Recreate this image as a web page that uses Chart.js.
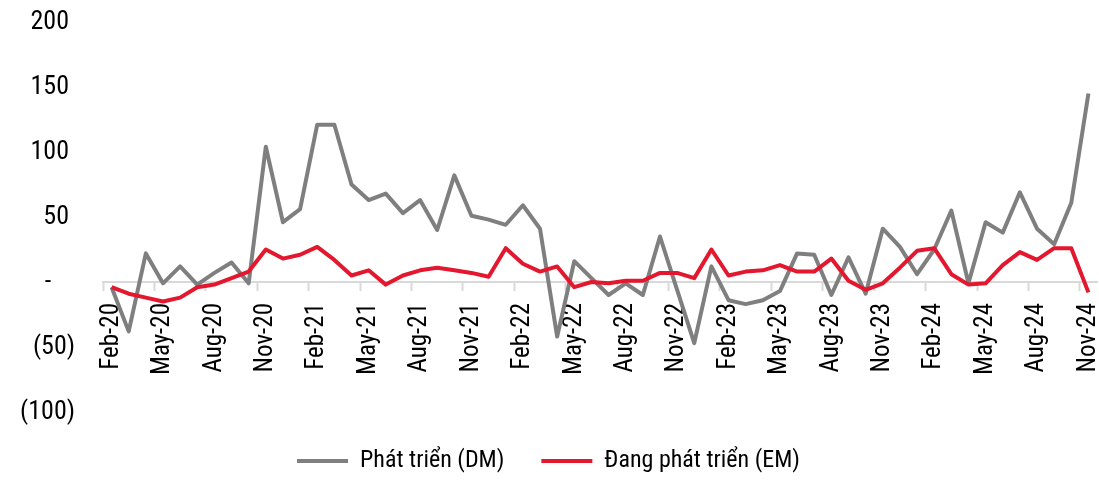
<!DOCTYPE html>
<html>
<head>
<meta charset="utf-8">
<script src="https://cdn.jsdelivr.net/npm/chart.js@4.4.1/dist/chart.umd.min.js"></script>
<style>
  html, body { margin: 0; padding: 0; background: #fff; }
  #wrap { width: 1099px; height: 482px; position: relative; }
</style>
</head>
<body>
<div id="wrap"><canvas id="c"></canvas></div>
<script>
const months = [
  'Feb-20','Mar-20','Apr-20','May-20','Jun-20','Jul-20','Aug-20','Sep-20','Oct-20','Nov-20','Dec-20',
  'Jan-21','Feb-21','Mar-21','Apr-21','May-21','Jun-21','Jul-21','Aug-21','Sep-21','Oct-21','Nov-21','Dec-21',
  'Jan-22','Feb-22','Mar-22','Apr-22','May-22','Jun-22','Jul-22','Aug-22','Sep-22','Oct-22','Nov-22','Dec-22',
  'Jan-23','Feb-23','Mar-23','Apr-23','May-23','Jun-23','Jul-23','Aug-23','Sep-23','Oct-23','Nov-23','Dec-23',
  'Jan-24','Feb-24','Mar-24','Apr-24','May-24','Jun-24','Jul-24','Aug-24','Sep-24','Oct-24','Nov-24'
];
const dmValues = [
  -4, -38, 22, -1, 12, -2, 7, 15, -1, 104, 46,
  56, 121, 121, 75, 63, 68, 53, 63, 40, 82, 51, 48,
  44, 59, 41, -42, 16, 3, -10, -1, -10, 35, -6, -47,
  12, -14, -17, -14, -7, 22, 21, -10, 19, -9, 41, 27,
  6, 25, 55, -1, 46, 38, 69, 41, 29, 61, 145
];
const emValues = [
  -4, -9, -12, -15, -12, -4, -2, 3, 8, 25, 18,
  21, 27, 17, 5, 9, -2, 5, 9, 11, 9, 7, 4,
  26, 14, 8, 12, -4, 0, -1, 1, 1, 7, 7, 3,
  25, 5, 8, 9, 13, 8, 8, 18, 1, -6, -1, 11,
  24, 26, 6, -2, -1, 13, 23, 17, 26, 26, -8
];
const yTicks = [-100, -50, 0, 50, 100, 150, 200];
const seriesNames = ['Phát triển (DM)', 'Đang phát triển (EM)'];

const FONT = '"Roboto Condensed", "Liberation Sans", sans-serif';
const GRAY = '#7f7f7f';
const RED = '#e3172e';

function fmtY(v) {
  if (v === 0) return '-    ';
  if (v < 0) return '(' + Math.abs(v) + ')';
  return v + ' ';
}

new Chart(document.getElementById('c'), {
  type: 'line',
  data: {
    labels: months,
    datasets: [
      { label: seriesNames[0], data: dmValues, borderColor: GRAY, backgroundColor: GRAY,
        borderWidth: 4, pointRadius: 0, tension: 0, borderJoinStyle: 'round', order: 1 },
      { label: seriesNames[1], data: emValues, borderColor: RED, backgroundColor: RED,
        borderWidth: 4, pointRadius: 0, tension: 0, borderJoinStyle: 'round', order: 0 }
    ]
  },
  options: {
    responsive: true,
    maintainAspectRatio: false,
    animation: false,
    layout: { padding: { left: 0, right: 2, top: 22, bottom: -1 } },
    plugins: {
      tooltip: { enabled: false },
      legend: {
        position: 'bottom',
        labels: {
          font: { family: FONT, size: 24 },
          color: '#000',
          boxWidth: 51,
          boxHeight: 4,
          padding: 37,
          generateLabels: function(chart) {
            const items = Chart.defaults.plugins.legend.labels.generateLabels(chart);
            items.forEach(it => { it.lineWidth = 0; });
            items.sort((a, b) => a.datasetIndex - b.datasetIndex);
            return items;
          }
        }
      }
    },
    scales: {
      x: {
        type: 'category',
        position: { y: 0 },
        offset: true,
        grid: {
          offset: true,
          drawOnChartArea: false,
          drawTicks: true,
          tickLength: 8,
          tickWidth: 2,
          tickColor: (ctx) => (ctx.index % 3 === 0 ? '#d9d9d9' : 'rgba(0,0,0,0)')
        },
        border: { display: true, color: '#d9d9d9', width: 2 },
        ticks: {
          autoSkip: false,
          maxRotation: 90,
          minRotation: 90,
          padding: 13,
          color: '#000',
          font: { family: FONT, size: 25 },
          callback: function(val, idx) { return idx % 3 === 0 ? months[idx] : ''; }
        },
        afterFit: function(scale) { scale.paddingLeft = 0; scale.paddingRight = 0; }
      },
      y: {
        min: -100,
        max: 200,
        afterBuildTicks: function(scale) { scale.ticks = yTicks.map(v => ({ value: v })); },
        grid: { display: false, drawTicks: false },
        border: { display: false },
        ticks: {
          padding: 28,
          color: '#000',
          font: { family: FONT, size: 26 },
          callback: function(v) { return fmtY(v); }
        },
        afterFit: function(scale) { scale.width = 103; scale.paddingTop = 0; scale.paddingBottom = 0; }
      }
    }
  }
});
</script>
</body>
</html>
